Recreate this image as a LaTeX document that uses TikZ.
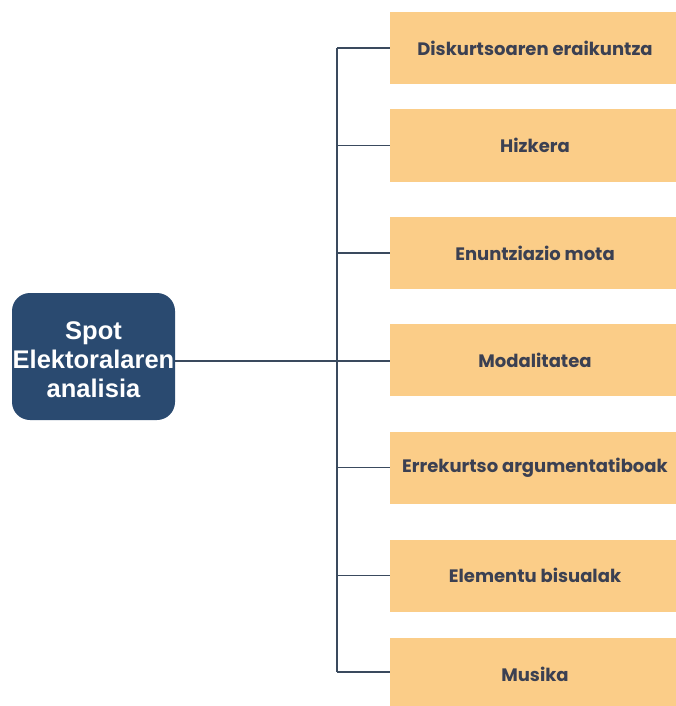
\documentclass[tikz,border=0pt]{standalone}
\usepackage{fontspec}
\setmainfont{Liberation Sans}
\newfontfamily\boxfont{Poppins}
\definecolor{navy}{HTML}{2A4A70}
\definecolor{peach}{HTML}{FBCD88}
\definecolor{boxtext}{HTML}{3B4052}
\definecolor{wire}{HTML}{3A4A5E}
\tikzset{
  x=1pt, y=-1pt,
  topic/.style={fill=peach, draw=none, minimum width=290pt, minimum height=72pt, anchor=west, inner sep=0pt},
  topiclabel/.style={text=boxtext, inner sep=0pt, font=\boxfont\bfseries\fontsize{18}{21}\selectfont},
  rootbox/.style={fill=navy, draw=none, rounded corners=18pt, minimum width=163pt, minimum height=127pt, inner sep=0pt},
  rootlabel/.style={text=white, align=center, inner sep=0pt, font=\bfseries\fontsize{25.5}{29}\selectfont},
  wireline/.style={draw=wire, line width=1.6pt}
}
\begin{document}
\begin{tikzpicture}
\useasboundingbox (0,0) rectangle (676,706);
\node[rootbox] (root) at (93.5,356.5) {};
\node[rootlabel] (rootText) at (93.5,359.5) {Spot\\Elektoralaren\\analisia};
\node[topic] (t1) at (390,48) {};
\node[topiclabel] (l1) at (535,48) {Diskurtsoaren eraikuntza};
\node[topic] (t2) at (390,145.5) {};
\node[topiclabel] (l2) at (535,145.5) {Hizkera};
\node[topic] (t3) at (390,253) {};
\node[topiclabel] (l3) at (535,253) {Enuntziazio mota};
\node[topic] (t4) at (390,360) {};
\node[topiclabel] (l4) at (535,360) {Modalitatea};
\node[topic] (t5) at (390,467.5) {};
\node[topiclabel] (l5) at (535,467.5) {Errekurtso argumentatiboak};
\node[topic] (t6) at (390,575.5) {};
\node[topiclabel] (l6) at (535,575.5) {Elementu bisualak};
\node[topic, minimum height=76pt] (t7) at (390,676) {};
\node[topiclabel] (l7) at (535,674) {Musika};
\coordinate (vtop) at (337,48);
\coordinate (vbot) at (337,672);
\coordinate (hub) at (337,361);
\draw[wireline] (vtop) -- (vbot);
\draw[wireline] (root.east |- hub) -- (hub);
\draw[wireline] (vtop) -- (t1.west);
\draw[wireline] (337,145.5) -- (t2.west);
\draw[wireline] (337,253) -- (t3.west);
\draw[wireline] (337,361) -- (t4.west |- hub);
\draw[wireline] (337,467.5) -- (t5.west);
\draw[wireline] (337,575.5) -- (t6.west);
\draw[wireline] (vbot) -- (t7.west |- vbot);
\end{tikzpicture}
\end{document}
